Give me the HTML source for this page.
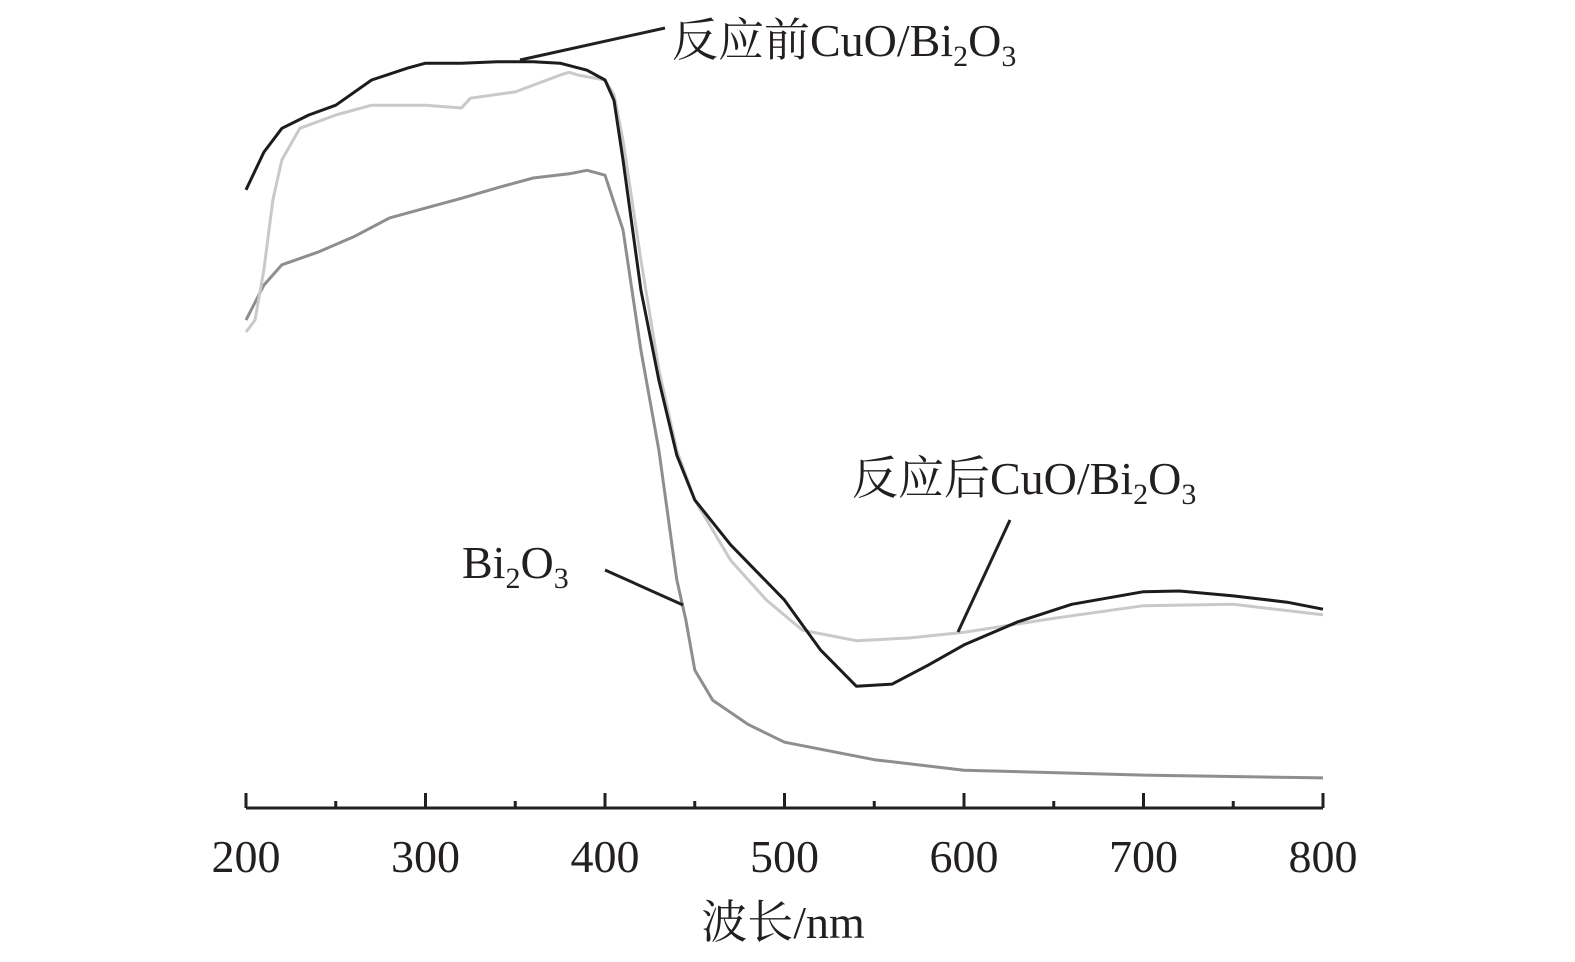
<!DOCTYPE html>
<html><head><meta charset="utf-8"><style>
html,body{margin:0;padding:0;background:#fff;}
svg{display:block;font-family:"Liberation Serif","Noto Serif CJK SC",serif;}
</style></head><body>
<svg id="chart" width="1575" height="962" viewBox="0 0 1575 962">
<g id="axis"></g>
<g id="series"></g>
<g fill="#231f20" font-size="46">
<line x1="520" y1="60" x2="665" y2="28" stroke="#231f20" stroke-width="3"/>
<text x="672" y="56">反应前CuO/Bi<tspan font-size="30" dy="10">2</tspan><tspan dy="-10">O</tspan><tspan font-size="30" dy="10">3</tspan></text>
<line x1="1010" y1="520" x2="958" y2="632" stroke="#231f20" stroke-width="3"/>
<text x="852" y="494">反应后CuO/Bi<tspan font-size="30" dy="10">2</tspan><tspan dy="-10">O</tspan><tspan font-size="30" dy="10">3</tspan></text>
<line x1="605" y1="570" x2="683" y2="605" stroke="#231f20" stroke-width="3"/>
<text x="462" y="578">Bi<tspan font-size="30" dy="10">2</tspan><tspan dy="-10">O</tspan><tspan font-size="30" dy="10">3</tspan></text>
</g>
</svg>
<script>
const xTicks=[200,300,400,500,600,700,800];
const xMinor=[250,350,450,550,650,750];
const beforeX=[200,210,220,235,250,270,290,300,320,340,360,375,390,400,405,410,420,430,440,450,470,500,520,540,560,580,600,630,660,700,720,750,780,800];
const beforeY=[88.3,93.7,97.1,99,100.4,104,105.7,106.4,106.4,106.6,106.6,106.4,105.4,104,101.1,92.6,74,61.1,50.4,44,37.6,29.7,22.6,17.4,17.7,20.4,23.3,26.6,29.1,30.9,31,30.3,29.4,28.4];
const afterX=[200,205,210,215,220,230,250,270,300,320,325,350,375,380,385,400,405,410,420,430,440,450,470,490,510,540,570,600,650,700,750,800];
const afterY=[68,69.7,76.9,86.9,92.6,97.1,99,100.4,100.4,100,101.4,102.3,104.7,105.1,104.7,104,101.9,95.4,78.3,62.6,51.1,44,35.4,29.7,25.4,23.9,24.3,25.1,27.1,28.9,29.1,27.6];
const biX=[200,210,220,240,260,280,300,320,340,360,380,390,400,410,420,430,440,445,450,460,480,500,550,600,700,800];
const biY=[69.7,74.7,77.6,79.4,81.6,84.3,85.7,87.1,88.6,90,90.6,91.1,90.4,82.6,65.4,51.1,32.6,26.9,19.7,15.4,11.9,9.4,6.9,5.4,4.7,4.3];
const NS="http://www.w3.org/2000/svg";
const xs=v=>246+(v-200)*(1323-246)/600;
const ys=v=>808-v*7;
const axis=document.getElementById('axis');
function mk(tag,attrs,parent){const e=document.createElementNS(NS,tag);for(const k in attrs)e.setAttribute(k,attrs[k]);parent.appendChild(e);return e;}
const base=mk('line',{x1:xs(200),y1:808,x2:xs(800),y2:808,stroke:'#231f20','stroke-width':3},axis);


xTicks.forEach(t=>{
  const l=mk('line',{x1:xs(t),y1:793,x2:xs(t),y2:808,stroke:'#231f20','stroke-width':3},axis);
  
  
  const tx=mk('text',{x:xs(t),y:872,'text-anchor':'middle','font-size':46,fill:'#231f20'},axis);
  tx.textContent=t;
  
  
});
xMinor.forEach(t=>{
  const l=mk('line',{x1:xs(t),y1:801,x2:xs(t),y2:808,stroke:'#231f20','stroke-width':3},axis);
  
  
});
const title=mk('text',{x:783,y:938,'text-anchor':'middle','font-size':46,fill:'#231f20'},axis);
title.textContent='波长/nm';


const ser=document.getElementById('series');
function line(X,Y,color,name){
  const p=mk('polyline',{points:X.map((x,i)=>xs(x).toFixed(1)+','+ys(Y[i]).toFixed(1)).join(' '),fill:'none',stroke:color,'stroke-width':3,'stroke-linejoin':'round'},ser);
  
  
}
line(biX,biY,'#8e8e8e','bi2o3-line');
line(afterX,afterY,'#c9c9c9','after-reaction-line');
line(beforeX,beforeY,'#1c1c1c','before-reaction-line');
</script>
</body></html>
